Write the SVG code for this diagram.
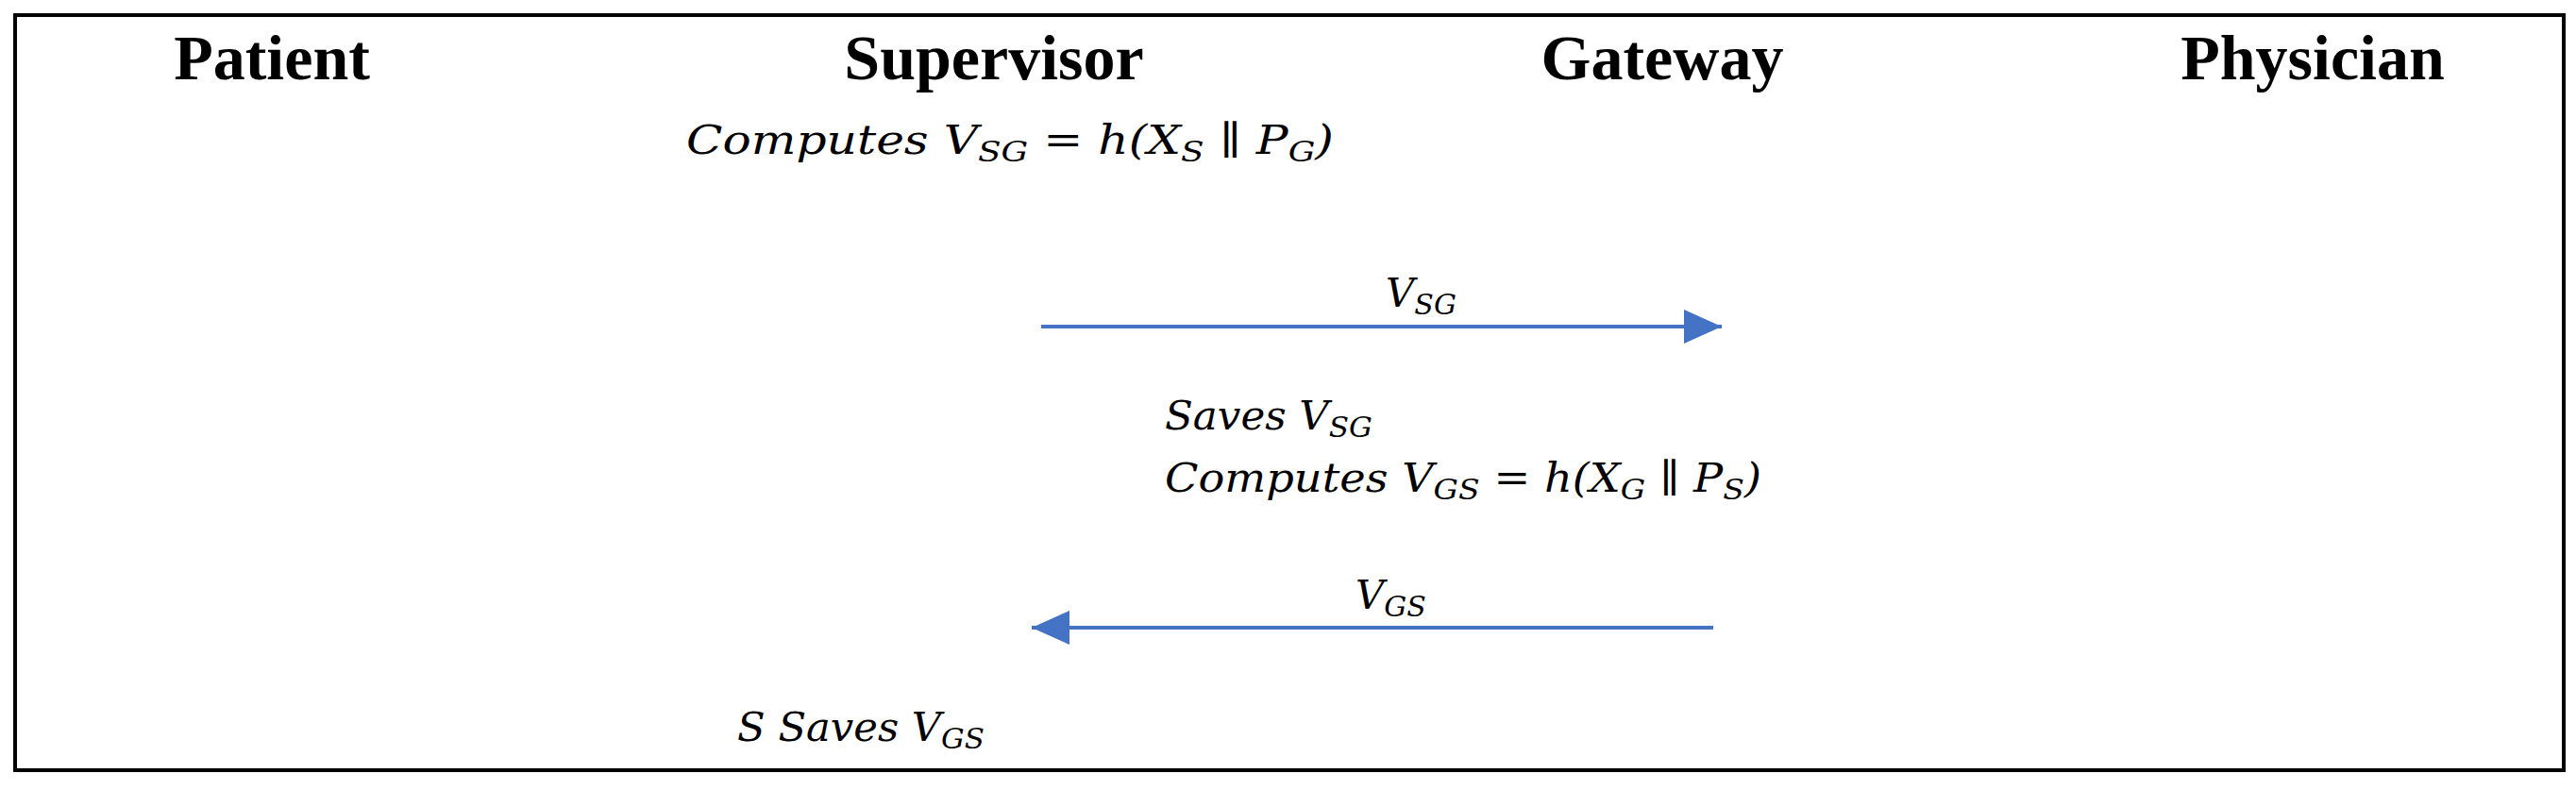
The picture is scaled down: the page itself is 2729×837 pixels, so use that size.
<svg xmlns="http://www.w3.org/2000/svg" width="2729" height="837" viewBox="0 0 2729 837">
<style>
.h{font-family:"Liberation Serif",serif;font-weight:bold;font-size:68px;text-anchor:middle}
.m{font-family:"DejaVu Serif",serif;font-style:italic;font-size:42px}
.s{font-size:30px}
.a{stroke:#4472C4;stroke-width:4;fill:none}
</style>
<defs><marker id="ah" markerUnits="userSpaceOnUse" markerWidth="40" markerHeight="36" refX="40" refY="18" orient="auto"><path d="M0,0L40,18L0,36z" fill="#4472C4"/></marker></defs>
<rect x="16" y="16" width="2700" height="800" fill="#fff" stroke="#000" stroke-width="4"/>
<g id="patient"><text class="h" x="288" y="84">Patient</text></g>
<g id="supervisor"><text class="h" x="1053" y="84">Supervisor</text>
<text class="m" x="727" y="163" textLength="686" lengthAdjust="spacingAndGlyphs">Computes  V<tspan class="s" dy="8">SG</tspan><tspan dy="-8"> = h(X</tspan><tspan class="s" dy="8">S</tspan><tspan dy="-8"> ∥ P</tspan><tspan class="s" dy="8">G</tspan><tspan dy="-8">)</tspan></text>
<text class="m" x="781" y="785" textLength="262" lengthAdjust="spacingAndGlyphs">S Saves V<tspan class="s" dy="8">GS</tspan></text></g>
<g id="gateway"><text class="h" x="1761" y="84">Gateway</text>
<text class="m" x="1234" y="455" textLength="220" lengthAdjust="spacingAndGlyphs">Saves V<tspan class="s" dy="8">SG</tspan></text>
<text class="m" x="1234" y="521" textLength="632" lengthAdjust="spacingAndGlyphs">Computes V<tspan class="s" dy="8">GS</tspan><tspan dy="-8"> = h(X</tspan><tspan class="s" dy="8">G</tspan><tspan dy="-8"> ∥ P</tspan><tspan class="s" dy="8">S</tspan><tspan dy="-8">)</tspan></text></g>
<g id="physician"><text class="h" x="2450" y="84">Physician</text></g>
<g id="connectors">
<line class="a" x1="1103" y1="346" x2="1824" y2="346" marker-end="url(#ah)"/>
<text class="m" x="1468" y="325">V<tspan class="s" dy="8">SG</tspan></text>
<line class="a" x1="1815" y1="665" x2="1093" y2="665" marker-end="url(#ah)"/>
<text class="m" x="1436" y="645">V<tspan class="s" dy="8">GS</tspan></text>
</g>
</svg>
